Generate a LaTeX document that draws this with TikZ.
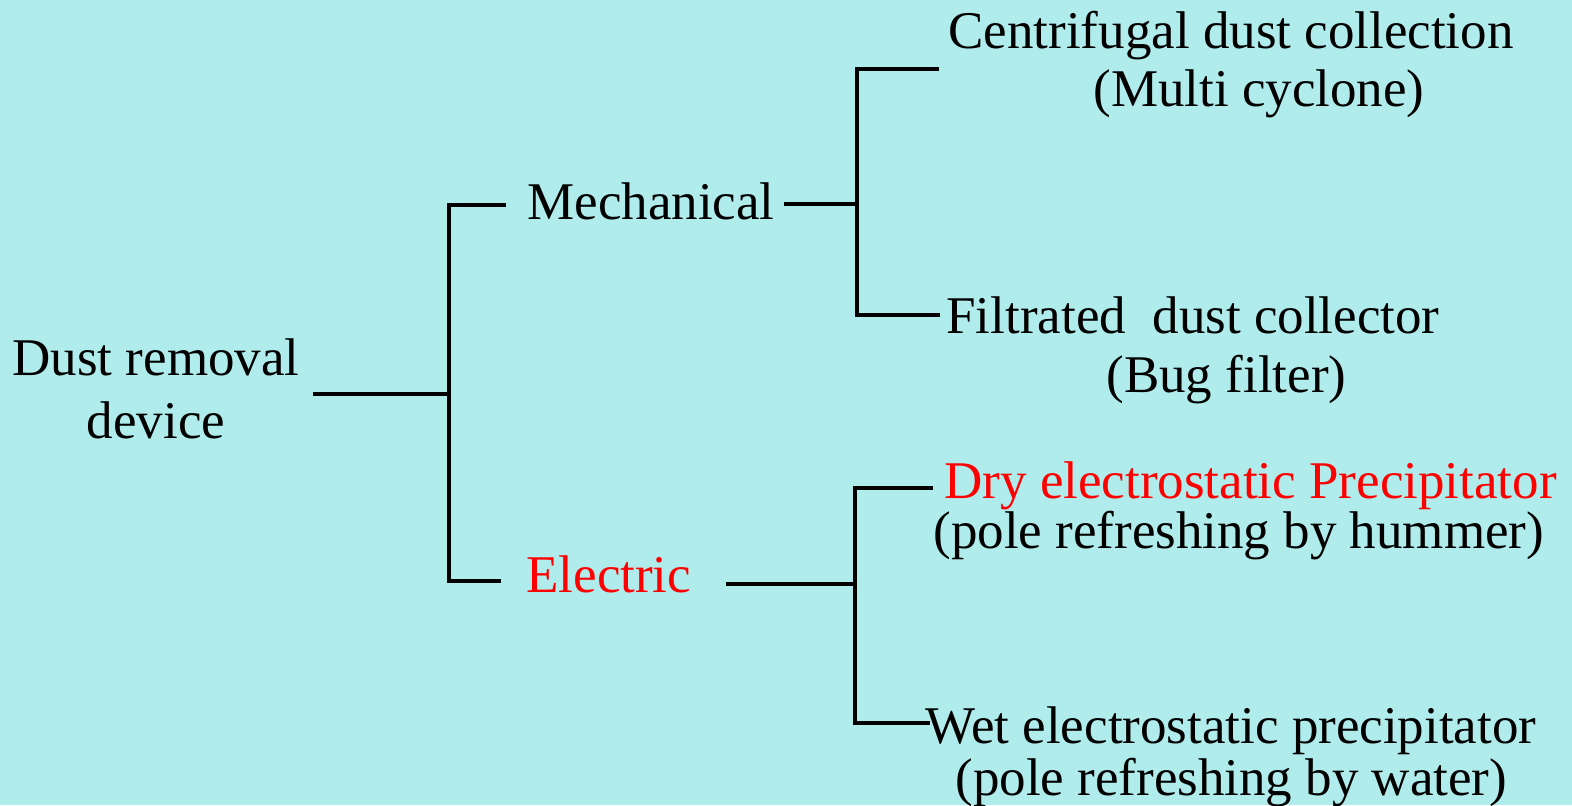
\documentclass[tikz,border=0pt]{standalone}
\usepackage{fontspec}
\setmainfont{Liberation Serif}
\usetikzlibrary{positioning}
\definecolor{bgcyan}{RGB}{176,236,235}
\definecolor{elecred}{RGB}{255,0,0}

\begin{document}
\begin{tikzpicture}[x=0.5pt,y=-0.5pt,
  branch/.style={line width=2.2pt},
  txt/.style={font=\fontsize{26.5}{29.5}\selectfont, inner sep=0pt, anchor=base west, align=left}]

% --- Background
\fill[bgcyan] (0,0) rectangle (1572,805);
\useasboundingbox (0,0) rectangle (1572,805);

% --- Root
\node[txt, align=center, anchor=base, font=\fontsize{26.5}{31.5}\selectfont] (root) at (156,438) {Dust removal\\device};

% --- First level
\node[txt] (mech) at (527,219) {Mechanical};
\node[txt, text=elecred] (elec) at (526,592) {Electric};

% --- Mechanical devices
\node[txt, font=\fontsize{26.5}{29}\selectfont] (cent) at (948,106) {Centrifugal dust collection\\\hspace*{72.5pt}(Multi cyclone)};
\node[txt] (filt) at (946,392) {Filtrated\ \ dust collector\\\hspace*{80pt}(Bug filter)};

% --- Electric devices
\node[txt, font=\fontsize{26.5}{25}\selectfont] (dry) at (933,548) {\hspace*{5.5pt}\textcolor{elecred}{Dry electrostatic Precipitator}\\(pole refreshing by hummer)};
\node[txt, font=\fontsize{26.5}{26}\selectfont] (wet) at (925,795) {Wet electrostatic precipitator\\\hspace*{15pt}(pole refreshing by water)};

% --- Junctions
\coordinate (j0) at (449,394);
\coordinate (k1a) at (449,205);
\coordinate (k1b) at (449,581);
\coordinate (jm) at (857,204);
\coordinate (k2a) at (857,69);
\coordinate (k2b) at (857,315);
\coordinate (je) at (855,584);
\coordinate (k3a) at (855,488);
\coordinate (k3b) at (855,723);

% --- Connectors
\draw[branch] ([xshift=6.5pt]root.east |- j0) -- (j0);
\draw[branch] ([xshift=-10.5pt]mech.west |- k1a) -- (k1a) -- (k1b) -- ([xshift=-12.5pt]elec.west |- k1b);
\draw[branch] ([xshift=4.5pt]mech.east |- jm) -- (jm);
\draw[branch] ([xshift=-4.5pt]cent.base west |- k2a) -- (k2a) -- (k2b) -- ([xshift=-3pt]filt.base west |- k2b);
\draw[branch] ([xshift=17pt]elec.east |- je) -- (je);
\draw[branch] (dry.base west |- k3a) -- (k3a) -- (k3b) -- ([xshift=2.5pt]wet.base west |- k3b);

\end{tikzpicture}
\end{document}
